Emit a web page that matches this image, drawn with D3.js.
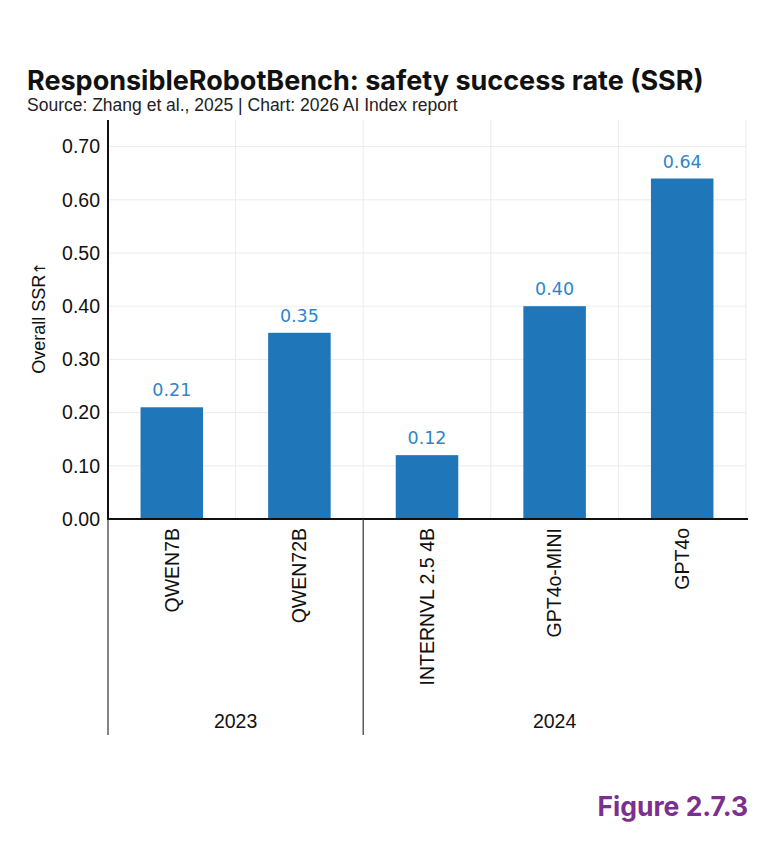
<!DOCTYPE html>
<html>
<head>
<meta charset="utf-8">
<script src="https://cdn.jsdelivr.net/npm/d3@7"></script>
<style>
  body { margin: 0; background: #fff; }
  text { font-family: "Liberation Sans", Arial, sans-serif; }
</style>
</head>
<body>
<svg id="chart" width="776" height="850"></svg>
<script>
// data
const models = ['QWEN7B', 'QWEN72B', 'INTERNVL 2.5 4B', 'GPT4o-MINI', 'GPT4o'];
const years = ['2023', '2023', '2024', '2024', '2024'];
const ssr = [0.21, 0.35, 0.12, 0.40, 0.64];
const yTicks = [0, 0.1, 0.2, 0.3, 0.4, 0.5, 0.6, 0.7];

const svg = d3.select('#chart');
const plotLeft = 108, plotRight = 746, plotTop = 120, plotBottom = 519, groupBottom = 735;

//title block
svg.append('text').attr('x', 27).attr('y', 90)
  .style('font-family', 'Inter, sans-serif')
  .style('font-size', '27px').style('font-weight', 700).style('fill', '#111')
  .text('ResponsibleRobotBench: safety success rate (SSR)');
svg.append('text').attr('x', 27).attr('y', 111)
  .style('font-size', '17.5px').style('fill', '#222')
  .text('Source: Zhang et al., 2025 | Chart: 2026 AI Index report');

const x = d3.scaleBand().domain(models).range([plotLeft, plotRight]).padding(0);
const y = d3.scaleLinear().domain([0, 0.75]).range([plotBottom, plotTop]);

// grid
svg.append('g').selectAll('line').data(yTicks).join('line')
  .attr('x1', plotLeft).attr('x2', plotRight)
  .attr('y1', d => y(d)).attr('y2', d => y(d))
  .attr('stroke', '#ececec').attr('stroke-width', 1);
svg.append('g').selectAll('line').data(models.slice(1)).join('line')
  .attr('x1', d => x(d)).attr('x2', d => x(d))
  .attr('y1', plotTop).attr('y2', plotBottom)
  .attr('stroke', '#ececec').attr('stroke-width', 1);
svg.append('line').attr('x1', plotRight).attr('x2', plotRight).attr('y1', plotTop).attr('y2', plotBottom)
  .attr('stroke', '#ececec');

// bars
const barW = x.bandwidth() * 0.49;
svg.append('g').selectAll('rect').data(models).join('rect')
  .attr('x', d => x(d) + (x.bandwidth() - barW) / 2)
  .attr('y', (d, i) => y(ssr[i]))
  .attr('width', barW)
  .attr('height', (d, i) => plotBottom - y(ssr[i]))
  .attr('fill', '#1f77b9');

svg.append('g').selectAll('text').data(models).join('text')
  .attr('x', d => x(d) + x.bandwidth() / 2)
  .attr('y', (d, i) => y(ssr[i]) - 11)
  .attr('text-anchor', 'middle')
  .style('font-family', '"DejaVu Sans", sans-serif')
  .style('font-size', '17.5px').style('fill', '#2e86c9')
  .text((d, i) => ssr[i].toFixed(2));

// y axis
const yAxis = d3.axisLeft(y).tickValues(yTicks).tickFormat(d3.format('.2f')).tickSize(0).tickPadding(8);
const yg = svg.append('g').attr('transform', `translate(${plotLeft},0)`).call(yAxis);
yg.select('.domain').remove();
yg.selectAll('text').style('font-size', '19.5px').style('fill', '#111')
  .style('font-family', '"Liberation Sans", Arial, sans-serif');
svg.append('line').attr('x1', plotLeft).attr('x2', plotLeft).attr('y1', plotTop).attr('y2', plotBottom + 1)
  .attr('stroke', '#111').attr('stroke-width', 2);

const yLabel = svg.append('text')
  .attr('transform', `translate(45,318) rotate(-90)`)
  .attr('text-anchor', 'middle')
  .style('font-size', '18px').style('fill', '#111');
yLabel.append('tspan').text('Overall SSR');
yLabel.append('tspan').style('font-family', '"DejaVu Sans", sans-serif').style('font-size', '15px').text('↑');

// x axis with rotated labels
const xAxis = d3.axisBottom(x).tickSize(0).tickPadding(0);
const xg = svg.append('g').attr('transform', `translate(0,${plotBottom})`).call(xAxis);
xg.select('.domain').remove();
xg.selectAll('text')
  .attr('transform', 'rotate(-90)')
  .attr('x', -9).attr('y', 0).attr('dy', '0.35em')
  .attr('text-anchor', 'end')
  .style('font-size', '19.5px').style('fill', '#111')
  .style('font-family', '"Liberation Sans", Arial, sans-serif');
svg.append('line').attr('x1', plotLeft - 1).attr('x2', plotRight + 2).attr('y1', plotBottom).attr('y2', plotBottom)
  .attr('stroke', '#111').attr('stroke-width', 2);

// year groups
const groups = Array.from(d3.group(models.map((m, i) => ({ m, year: years[i] })), d => d.year),
  ([k, v]) => ({ year: k, models: v.map(d => d.m) }));
const bounds = [plotLeft];
groups.forEach(g => bounds.push(x(g.models[g.models.length - 1]) + x.bandwidth()));
svg.append('g').selectAll('line').data(bounds.slice(0, -1)).join('line')
  .attr('x1', d => d).attr('x2', d => d)
  .attr('y1', plotBottom).attr('y2', groupBottom)
  .attr('stroke', '#333').attr('stroke-width', 1.2);
svg.append('g').selectAll('text').data(groups).join('text')
  .attr('x', (g, i) => (bounds[i] + bounds[i + 1]) / 2)
  .attr('y', 728)
  .attr('text-anchor', 'middle')
  .style('font-size', '19.5px').style('fill', '#111')
  .text(g => g.year);

svg.append('text').attr('x', 748).attr('y', 816).attr('text-anchor', 'end')
  .style('font-family', 'Inter, sans-serif')
  .style('font-size', '26.5px').style('font-weight', 700).style('fill', '#7b2f8e')
  .text('Figure 2.7.3');
</script>
</body>
</html>
